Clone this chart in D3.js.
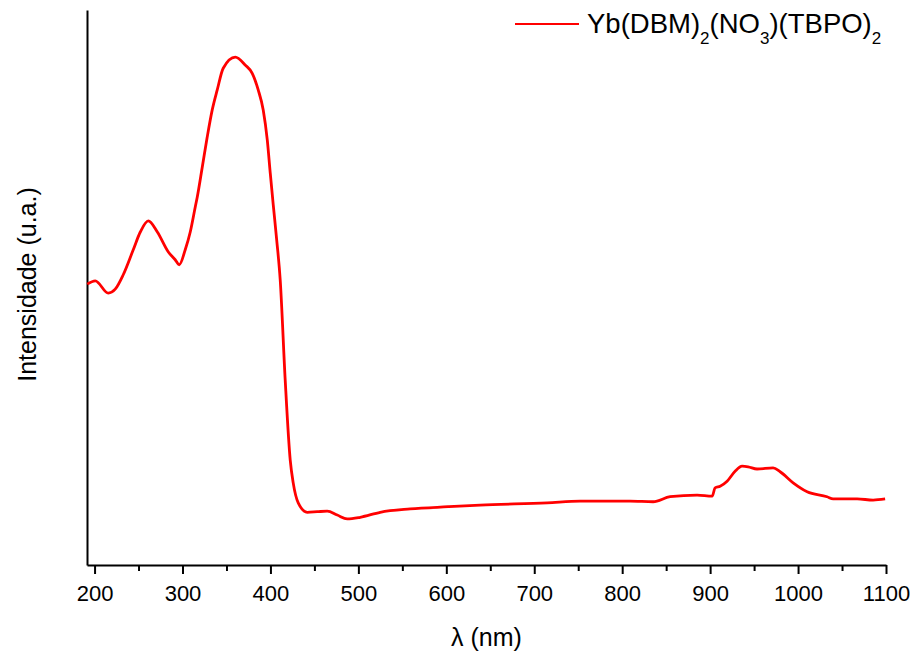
<!DOCTYPE html>
<html>
<head>
<meta charset="utf-8">
<script src="https://cdn.jsdelivr.net/npm/d3@7/dist/d3.min.js"></script>
<style>
  html, body { margin: 0; padding: 0; background: #fff; }
  svg { display: block; }
  text { font-family: "Liberation Sans", Arial, sans-serif; fill: #000; }
</style>
</head>
<body>
<svg id="chart" width="915" height="653"></svg>
<script>
// ---- data ----
const seriesName = ["Yb(DBM)", "2", "(NO", "3", ")(TBPO)", "2"];
const wavelength = [191.7, 200.8, 215.6, 223.5, 232.6, 244.0, 252.0, 261.1, 271.4, 283.9,
  291.7, 296.3, 303.1, 308.8, 314.5, 316.8, 322.5, 328.1, 333.8, 339.5,
  346.3, 360.0, 371.3, 379.3, 386.1, 391.8, 396.4, 399.8, 403.2, 407.1,
  411.1, 416.8, 422.5, 425.9, 431.6, 441.8, 453.2, 464.6, 476.0,
  487.3, 502.1, 524.8, 558.9, 602.1, 638.5, 714.7, 752.2, 809.0, 835.2,
  854.5, 885.2, 902.3, 905.7, 911.4, 919.3, 928.4, 936.4, 943.2, 953.4,
  971.6, 979.6, 994.4, 1010.3, 1033.0, 1039.9, 1067.2, 1085.4, 1099.0];
const intensity = [50.6, 51.2, 49.0, 49.7, 52.3, 56.8, 60.0, 62.0, 60.0, 56.4,
  55.0, 54.1, 56.8, 60.0, 64.5, 66.3, 71.7, 77.1, 82.0, 85.6,
  89.5, 91.5, 90.1, 88.6, 85.6, 82.0, 76.6, 70.6, 64.9, 58.6,
  51.4, 33.3, 18.9, 14.8, 11.2, 9.5, 9.6, 9.7, 9.0,
  8.3, 8.6, 9.5, 10.1, 10.5, 10.8, 11.2, 11.5, 11.5, 11.4,
  12.3, 12.6, 12.4, 13.9, 14.2, 15.1, 16.9, 17.8, 17.7, 17.3,
  17.5, 16.8, 14.8, 13.2, 12.3, 11.9, 11.9, 11.7, 11.9];
const majorTicks = [200, 300, 400, 500, 600, 700, 800, 900, 1000, 1100];
const minorTicks = [250, 350, 450, 550, 650, 750, 850, 950, 1050];
const xTitle = "λ (nm)";
const yTitle = "Intensidade (u.a.)";

// ---- layout ----
const svg = d3.select("#chart");
const L = 87, R = 886, T = 10, B = 565;
const x = d3.scaleLinear().domain([191.4, 1100]).range([L, R]);
const y = d3.scaleLinear().domain([0, 100]).range([B, T]);

const data = wavelength.map((w, i) => ({ w, v: intensity[i] }));

// x axis major
const xAxis = d3.axisBottom(x).tickValues(majorTicks).tickSize(9).tickSizeOuter(0).tickPadding(11)
  .tickFormat(d3.format("d"));
const gx = svg.append("g").attr("transform", `translate(0,${B})`).call(xAxis);
gx.select(".domain").attr("stroke", "#000").attr("stroke-width", 2);
gx.selectAll(".tick line").attr("stroke", "#000").attr("stroke-width", 2);
gx.selectAll(".tick text").style("font-size", "22px").style("font-family", '"Liberation Sans", Arial, sans-serif');

// x axis minor
const gxm = svg.append("g").attr("transform", `translate(0,${B})`)
  .call(d3.axisBottom(x).tickValues(minorTicks).tickSize(6).tickSizeOuter(0).tickFormat(""));
gxm.select(".domain").remove();
gxm.selectAll(".tick line").attr("stroke", "#000").attr("stroke-width", 2);

// y axis line (no ticks)
const gy = svg.append("g").attr("transform", `translate(${L},0)`)
  .call(d3.axisLeft(y).tickValues([]).tickSizeOuter(0));
gy.select(".domain").attr("stroke", "#000").attr("stroke-width", 2);

// titles
svg.append("text").attr("x", (L + R) / 2).attr("y", 646).attr("text-anchor", "middle")
  .style("font-size", "25px").text(xTitle);
svg.append("text").attr("transform", `translate(36,${(T + B) / 2 - 3}) rotate(-90)`)
  .attr("text-anchor", "middle").style("font-size", "25px").text(yTitle);

// curve
const line = d3.line().x(d => x(d.w)).y(d => y(d.v)).curve(d3.curveMonotoneX);
svg.append("path").datum(data).attr("d", line).attr("fill", "none")
  .attr("stroke", "#ff0000").attr("stroke-width", 2.8).attr("stroke-linejoin", "round");

// legend
svg.append("line").attr("x1", 515).attr("x2", 579).attr("y1", 24).attr("y2", 24)
  .attr("stroke", "#ff0000").attr("stroke-width", 2.2);
const lt = svg.append("text").attr("x", 587).attr("y", 33).style("font-size", "27.5px");
seriesName.forEach((s, i) => {
  const sub = i % 2 === 1;
  lt.append("tspan").text(s)
    .attr("dy", sub ? 11 : (i === 0 ? 0 : -11))
    .style("font-size", sub ? "17px" : "27.5px");
});
</script>
</body>
</html>
